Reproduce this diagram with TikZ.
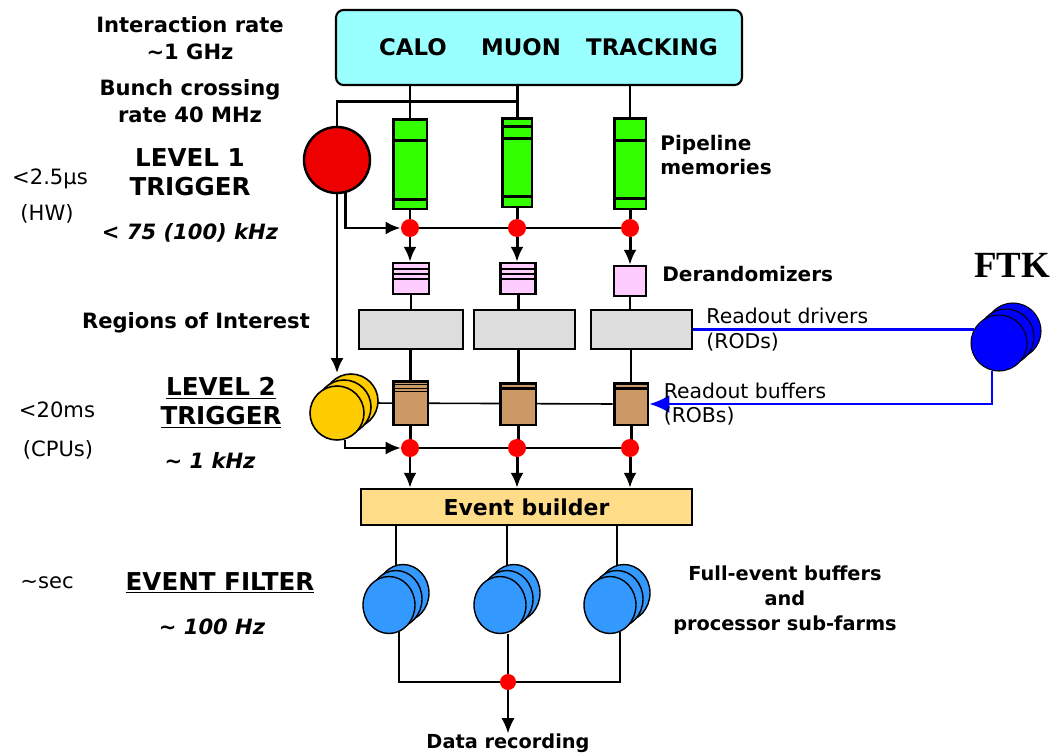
\documentclass[tikz,border=0pt]{standalone}
\usepackage{fontspec}
\setmainfont{DejaVu Sans}
\newfontfamily\serifbold{Liberation Serif}
\usetikzlibrary{arrows.meta,calc,positioning,backgrounds,shapes.geometric}

\definecolor{detcyan}{HTML}{99FFFF}
\definecolor{pipegreen}{HTML}{33FF00}
\definecolor{derpink}{HTML}{FFCCFF}
\definecolor{rodgray}{HTML}{DDDDDD}
\definecolor{robbrown}{HTML}{CC9966}
\definecolor{lvltwo}{HTML}{FFCC00}
\definecolor{ebyellow}{HTML}{FFDD88}
\definecolor{farmblue}{HTML}{3399FF}
\definecolor{dotred}{HTML}{EE0000}
\definecolor{ftkblue}{HTML}{0000FF}

\tikzset{
  wire/.style={line width=0.9pt},
  bus/.style={line width=1.7pt},
  tip/.style={-{Latex[length=0.3cm,width=0.26cm]}},
  bigtip/.style={-{Latex[length=0.4cm,width=0.36cm]}},
  ftkline/.style={draw=ftkblue, line width=1.4pt},
  detbox/.style={draw, line width=1.2pt, rounded corners=0.15cm, fill=detcyan,
    minimum width=8.12cm, minimum height=1.5cm},
  pipebox/.style={draw, line width=1.7pt, fill=pipegreen, minimum height=1.8cm},
  derbox/.style={draw, line width=1.3pt, fill=derpink, minimum height=0.62cm},
  rodbox/.style={draw, line width=1.3pt, fill=rodgray, minimum width=2.02cm,
    minimum height=0.78cm},
  robbox/.style={draw, line width=1.7pt, fill=robbrown, minimum height=0.84cm},
  ebbox/.style={draw, line width=1.3pt, fill=ebyellow, minimum width=6.62cm,
    minimum height=0.72cm, font=\bfseries\fontsize{12.5}{15}\selectfont},
  reddot/.style={circle, fill=red, inner sep=0pt, minimum size=0.36cm},
  disc/.style={circle, draw, line width=0.9pt, inner sep=0pt},
  farmdisc/.style={ellipse, draw, line width=0.8pt, fill=farmblue, inner sep=0pt,
    minimum width=1.04cm, minimum height=1.14cm},
  lbl/.style={font=\bfseries\fontsize{12}{15.4}\selectfont, align=center, inner sep=0pt},
  biglbl/.style={font=\bfseries\fontsize{14}{16.5}\selectfont, align=center, inner sep=0pt},
  rate/.style={font=\bfseries\itshape\fontsize{12}{15}\selectfont, inner sep=0pt},
  note/.style={font=\fontsize{12}{15}\selectfont, align=center, inner sep=0pt},
  side/.style={font=\bfseries\fontsize{11.4}{14}\selectfont, align=left, anchor=west,
    inner sep=0pt},
  sidethin/.style={font=\fontsize{11.6}{14}\selectfont, align=left, anchor=west,
    inner sep=0pt},
}

\begin{document}
\begin{tikzpicture}[x=0.02cm, y=-0.02cm]
\useasboundingbox (0,0) rectangle (1058,754);

% detectors
\node[detbox] (det) at (539,47.5) {};
\node[lbl, font=\bfseries\fontsize{13}{15}\selectfont] (calo) at (413,47) {CALO};
\node[lbl, font=\bfseries\fontsize{13}{15}\selectfont] (muon) at (521,47) {MUON};
\node[lbl, font=\bfseries\fontsize{13}{15}\selectfont] (trk) at (652,47) {TRACKING};

% level 1
\node[disc, fill=dotred, line width=1.4pt, minimum size=1.32cm] (lvl1) at (337,160) {};

% pipeline memories
\node[pipebox, minimum width=0.68cm] (pipe1) at (410,164) {};
\node[pipebox, minimum width=0.6cm, minimum height=1.78cm] (pipe2) at (517,162.5) {};
\node[pipebox, minimum width=0.64cm, minimum height=1.82cm] (pipe3) at (630,163.5) {};
\foreach \n/\d in {pipe1/23, pipe2/10, pipe2/22, pipe3/24}
  \draw[line width=1.2pt] ($(\n.north west)+(0,\d)$) -- ($(\n.north east)+(0,\d)$);
\foreach \n/\d in {pipe1/11, pipe2/12, pipe3/12}
  \draw[line width=1.2pt] ($(\n.south west)+(0,-\d)$) -- ($(\n.south east)+(0,-\d)$);

% trigger decision points
\foreach \n/\x in {1/410, 2/517, 3/630} {
  \node[reddot] (l1dot\n) at (\x,228) {};
  \node[reddot] (l2dot\n) at (\x,448) {};
}

% derandomizers
\node[derbox, minimum width=0.72cm] (der1) at (411,278.5) {};
\node[derbox, minimum width=0.7cm] (der2) at (518,278.5) {};
\node[derbox, minimum width=0.64cm, minimum height=0.6cm] (der3) at (630,281) {};
\foreach \n in {der1,der2}
  \foreach \d in {7,12,17}
    \draw[line width=0.9pt] ($(\n.north west)+(0,\d)$) -- ($(\n.north east)+(0,\d)$);

% readout drivers
\node[rodbox, minimum width=2.08cm] (rod1) at (411,329.5) {};
\node[rodbox] (rod2) at (524.5,329.5) {};
\node[rodbox] (rod3) at (641.5,329.5) {};

% readout buffers
\node[robbox, minimum width=0.7cm, minimum height=0.88cm] (rob1) at (410.5,403) {};
\node[robbox, minimum width=0.72cm] (rob2) at (518,404) {};
\node[robbox, minimum width=0.68cm] (rob3) at (631,404) {};
\foreach \d in {5,9,12}
  \draw[line width=0.8pt] ($(rob1.north west)+(0,\d)$) -- ($(rob1.north east)+(0,\d)$);
\foreach \n in {rob2,rob3}
  \draw[line width=1.5pt] ($(\n.north west)+(0,7)$) -- ($(\n.north east)+(0,7)$);

% level 2 farm
\foreach \i in {2,1,0}
  \node[disc, fill=lvltwo, minimum size=1.08cm] (lvl2-\i) at (337+7*\i,413-6*\i) {};

% FTK
\foreach \i in {2,1,0}
  \node[disc, fill=ftkblue, line width=0.6pt, minimum size=1.12cm] (ftk-\i) at (999+7*\i,343-6*\i) {};
\node[font=\serifbold\bfseries\fontsize{21}{24}\selectfont, inner sep=0pt] (ftklbl) at (1012,265) {FTK};
\draw[ftkline] (rod3.east) -- (rod3.east -| ftk-0.150);

% event builder and filter farms
\node[ebbox] (eb) at (526.5,507) {Event builder};
\foreach \f/\x in {1/389, 2/500, 3/610}
  \foreach \i in {2,1,0}
    \node[farmdisc] (farm\f-\i) at (\x+7*\i,605-6*\i) {};
\node[reddot, minimum size=0.32cm] (outdot) at (508,682) {};
\node[lbl, font=\bfseries\fontsize{11}{13}\selectfont] (rec) at (508,743) {Data recording};

% connections
\begin{scope}[on background layer]
  \draw[bus] (det.south -| pipe1) -- (pipe1.north);
  \draw[bus] (det.south -| pipe2) -- (pipe2.north);
  \draw[wire] (det.south -| pipe3) -- (pipe3.north);
  \coordinate (bx) at ($(det.south -| pipe2)!0.5!(pipe2.north)$);
  \draw[bus] (lvl1.north) |- (bx);
  \draw[bus, tip] (lvl1.-76) |- (l1dot1);
  \draw[bus] (l1dot1) -- (l1dot3);
  \foreach \n/\w in {1/1.7pt, 2/1.7pt, 3/0.9pt} {
    \draw[bus] (pipe\n) -- (l1dot\n);
    \draw[bus, tip] (l1dot\n) -- (l1dot\n |- der\n.north);
    \draw[line width=\w] (der\n) -- (der\n |- rod\n.north);
    \draw[line width=\w] (rod\n.south -| rob\n) -- (rob\n);
    \draw[bus] (rob\n) -- (rob\n |- l2dot\n);
    \draw[bus, tip] (l2dot\n) -- (l2dot\n |- eb.north);
  }
  \draw[bus, tip] (lvl1.south) -- (lvl1.south |- lvl2-2.north);
  \draw[wire] (lvl2-1.east |- rob1) -- (rob3.west);
  \draw[line width=1.2pt, tip] (lvl2-0.-73) |- (l2dot1);
  \draw[line width=1.2pt] (l2dot1) -- (l2dot3);
  \draw[ftkline, bigtip] (ftk-0.-104) |- (rob3.east);
  \foreach \f in {1,2,3}
    \draw[wire] (farm\f-1 |- eb.south) -- (farm\f-1.north);
  \draw[wire] (farm1-0.-70) |- (outdot) -| (farm3-0.-70);
  \draw[wire] (outdot) -- (outdot |- farm2-0.south);
  \draw[wire, tip] (outdot) -- (rec.north);
\end{scope}

% left labels
\node[lbl] (intrate) at (190,38) {Interaction rate\\\textasciitilde1 GHz};
\node[lbl] (bunch) at (190,101) {Bunch crossing\\rate 40 MHz};
\node[biglbl] (trig1) at (190,172) {LEVEL 1\\TRIGGER};
\node[note] (lat1) at (50,179) {<2.5μs};
\node[note] (hw) at (47,214) {(HW)};
\node[rate] (rate1) at (190,233) {< 75 (100) kHz};
\node[lbl] (roilbl) at (196,323) {Regions of Interest};
\node[biglbl] (trig2) at (221,403) {\underline{LEVEL 2}\\\underline{TRIGGER}};
\node[note] (lat2) at (57,410) {<20ms};
\node[note] (cpu) at (58,450) {(CPUs)};
\node[rate] (rate2) at (210,460) {\textasciitilde{} 1 kHz};
\node[note] (lat3) at (47,583) {\textasciitilde sec};
\node[biglbl] (ef) at (220,583) {\underline{EVENT FILTER}};
\node[rate] (rate3) at (212,627) {\textasciitilde{} 100 Hz};

% right labels
\node[side] (pipelbl) at (660,155) {Pipeline\\memories};
\node[side] (derlbl) at (662,274) {Derandomizers};
\node[sidethin, right=0.26cm of rod3] (rodlbl) {Readout drivers\\(RODs)};
\node[sidethin, right=0.28cm of rob3] (roblbl) {Readout buffers\\(ROBs)};
\node[lbl, font=\bfseries\fontsize{11}{14.2}\selectfont] (farmlbl) at (785,600)
  {Full-event buffers\\and\\processor sub-farms};
\end{tikzpicture}
\end{document}
